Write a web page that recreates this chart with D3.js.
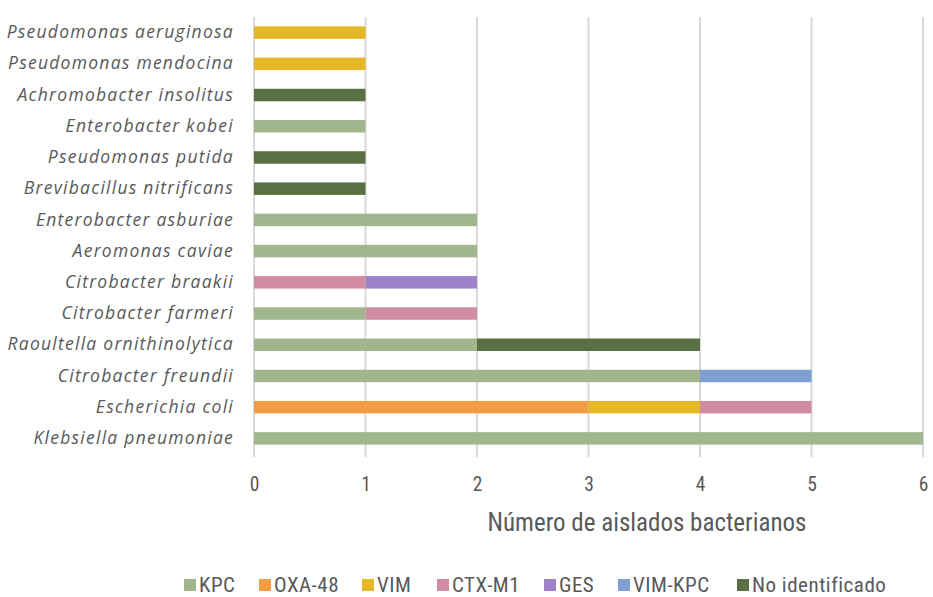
<!DOCTYPE html>
<html><head><meta charset="utf-8">
<script src="https://cdn.jsdelivr.net/npm/d3@7"></script>
<style>
html,body{margin:0;padding:0;background:#fff;}
svg{display:block;}
</style></head>
<body>
<svg id="chart" width="933" height="597"></svg>
<script>
const categories = ["Pseudomonas aeruginosa","Pseudomonas mendocina","Achromobacter insolitus","Enterobacter kobei","Pseudomonas putida ","Brevibacillus nitrificans","Enterobacter asburiae","Aeromonas caviae","Citrobacter braakii","Citrobacter farmeri","Raoultella ornithinolytica","Citrobacter freundii","Escherichia coli","Klebsiella pneumoniae"];
const seriesNames = ["KPC","OXA-48","VIM","CTX-M1","GES","VIM-KPC","No identificado"];
const KPC        = [0,0,0,1,0,0,2,2,0,1,2,4,0,6];
const OXA48      = [0,0,0,0,0,0,0,0,0,0,0,0,3,0];
const VIM        = [1,1,0,0,0,0,0,0,0,0,0,0,1,0];
const CTXM1      = [0,0,0,0,0,0,0,0,1,1,0,0,1,0];
const GES        = [0,0,0,0,0,0,0,0,1,0,0,0,0,0];
const VIMKPC     = [0,0,0,0,0,0,0,0,0,0,0,1,0,0];
const NoIdent    = [0,0,1,0,1,1,0,0,0,0,2,0,0,0];
const xTicks = [0,1,2,3,4,5,6];
const colors = ["#a2b68e","#f29d43","#e6b826","#d28ca2","#9d82c9","#7d9fd1","#587043"];
const seriesValues = [KPC,OXA48,VIM,CTXM1,GES,VIMKPC,NoIdent];

const table = categories.map((c,i)=>{
  const o={cat:c};
  seriesNames.forEach((s,j)=>o[s]=seriesValues[j][i]);
  return o;
});

const svg = d3.select("#chart");
const m = {left:254, top:17};
const x = d3.scaleLinear().domain([0,6]).range([m.left, 923]);
const y = d3.scaleBand().domain(categories).range([m.top, 454]).paddingInner(0.6).paddingOuter(0.3);
const condensed = "'Roboto Condensed','Liberation Sans Narrow','Roboto',sans-serif";

// gridlines
svg.append("g").selectAll("line").data(xTicks).join("line")
  .attr("x1",d=>x(d)).attr("x2",d=>x(d))
  .attr("y1",m.top).attr("y2",457)
  .attr("stroke","#d9d9d9").attr("stroke-width",2);

const stack = d3.stack().keys(seriesNames)(table);
svg.append("g").selectAll("g").data(stack).join("g")
  .attr("fill",(d,i)=>colors[i])
  .selectAll("rect").data(d=>d.filter(p=>p[1]-p[0]>0)).join("rect")
  .attr("x",d=>x(d[0])).attr("width",d=>x(d[1])-x(d[0]))
  .attr("y",d=>y(d.data.cat)).attr("height",y.bandwidth());

// x axis labels
const xAxis = d3.axisBottom(x).tickValues(xTicks).tickFormat(d3.format("d")).tickSize(0).tickPadding(0);
const gx = svg.append("g").call(xAxis);
gx.select(".domain").remove();
gx.selectAll("text").attr("font-family",condensed).attr("dy",null).attr("y",491)
  .attr("font-size",19.5).attr("fill","#595959");

// y axis labels
const yAxis = d3.axisLeft(y).tickSize(0).tickPadding(20);
const gy = svg.append("g").attr("transform",`translate(${m.left},0)`).call(yAxis);
gy.select(".domain").remove();
gy.selectAll("text").attr("font-family","'Open Sans',sans-serif").attr("font-style","italic")
  .attr("font-size",17.5).attr("letter-spacing",1.25).attr("fill","#595959").attr("x",-20);

svg.append("text").attr("x",647).attr("y",531).attr("text-anchor","middle")
  .attr("font-family",condensed).attr("font-size",25)
  .attr("fill","#595959").text("Número de aislados bacterianos");

// legend
const legendX = [184,259,362,437,544,618,737];
const lg = svg.append("g").selectAll("g").data(seriesNames).join("g")
  .attr("transform",(d,i)=>`translate(${legendX[i]},579)`);
lg.append("rect").attr("width",12).attr("height",12).attr("fill",(d,i)=>colors[i]);
lg.append("text").attr("x",15).attr("y",12.5).attr("font-family",condensed)
  .attr("font-size",21).attr("letter-spacing",0.5).attr("fill","#595959").text(d=>d);
</script>
</body></html>
